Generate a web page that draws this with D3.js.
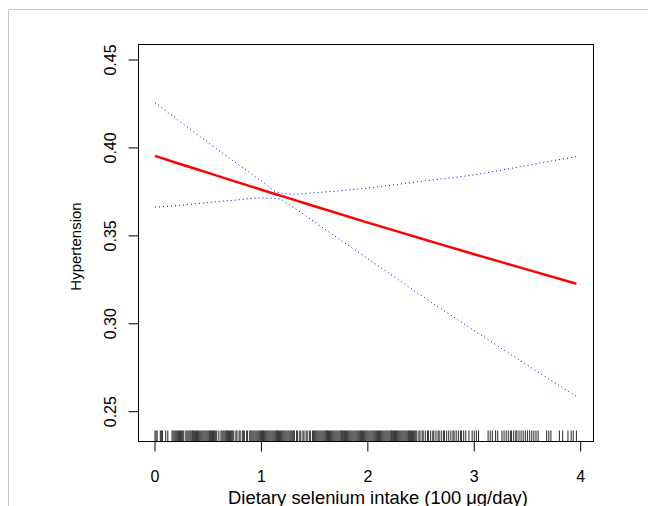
<!DOCTYPE html>
<meta charset="utf-8">
<style>
body { margin: 0; background: #fff; }
text { font-family: "Liberation Sans", Arial, sans-serif; fill: #000; }
</style>
<body>
  <div id="box1"></div>
</body>
<script src="https://d3js.org/d3.v7.min.js"></script>
<script>

// curve
var xs    = [0, 0.25, 0.5, 0.75, 1.0, 1.15, 1.3, 1.5, 2.0, 2.5, 3.0, 3.5, 3.96]
var fit   = [0.3955, 0.3906, 0.3858, 0.3810, 0.3762, 0.3734, 0.3706, 0.3668, 0.3575, 0.3485, 0.3395, 0.3308, 0.3227]
var upper = [0.4257, 0.4143, 0.4030, 0.3920, 0.3812, 0.3748, 0.3737, 0.3745, 0.3772, 0.3810, 0.3847, 0.3901, 0.3951]
var lower = [0.3663, 0.3674, 0.3690, 0.3703, 0.3715, 0.3712, 0.3662, 0.3578, 0.3370, 0.3162, 0.2961, 0.2764, 0.2587]

var xTicks = [0, 1, 2, 3, 4]
var yTicks = [0.25, 0.30, 0.35, 0.40, 0.45]

// rug of observed intakes
var rug = [0.00,0.01,0.02,0.05,0.06,0.07,0.10,0.12,
  0.16,0.17,0.18,0.19,0.20,0.21,0.22,0.23,0.24,0.25,0.26,0.27,0.29,0.30,0.31,0.32,0.33,0.34,0.35,0.355,0.36,0.37,0.38,0.39,
  0.40,0.41,0.42,0.43,0.44,0.45,0.46,0.47,0.48,0.49,0.50,0.51,0.515,0.52,0.53,0.54,0.55,0.56,0.57,0.58,0.60,0.62,0.63,0.64,0.65,0.66,0.67,0.675,0.68,0.69,
  0.70,0.71,0.72,0.73,0.74,0.76,0.77,0.79,0.80,0.82,0.83,0.84,0.86,0.87,0.89,
  0.90,0.91,0.92,0.93,0.94,0.95,0.96,0.97,0.98,0.99,1.00,1.005,
  1.01,1.02,1.03,1.04,1.05,1.06,1.07,1.08,1.09,1.10,1.11,1.12,1.13,1.14,1.145,1.15,1.16,1.17,1.18,1.19,
  1.20,1.21,1.22,1.23,1.24,1.25,1.26,1.27,1.28,1.29,1.30,1.31,1.33,1.34,1.36,1.37,1.39,1.40,1.42,1.43,1.45,1.46,1.48,1.49,
  1.50,1.51,1.52,1.53,1.54,1.55,1.56,1.57,1.58,1.59,1.60,1.61,1.615,1.62,1.63,1.64,1.65,1.66,1.67,1.68,1.69,
  1.70,1.71,1.72,1.73,1.74,1.75,1.755,1.76,1.77,1.78,1.79,1.80,1.81,1.82,1.83,1.84,1.85,1.86,1.87,1.88,1.89,
  1.90,1.91,1.92,1.93,1.94,1.95,1.96,1.97,1.98,1.99,
  2.00,2.01,2.02,2.03,2.04,2.05,2.06,2.07,2.08,2.09,2.10,2.11,2.12,2.13,2.14,2.15,2.16,2.17,2.18,2.19,
  2.20,2.21,2.22,2.225,2.23,2.24,2.25,2.26,2.27,2.28,2.29,2.30,2.31,2.32,2.33,2.34,2.35,2.36,2.37,2.38,2.385,2.39,
  2.40,2.41,2.42,2.43,2.44,2.45,
  2.46,2.48,2.49,2.51,2.52,2.54,2.56,2.57,2.59,2.61,2.62,2.64,2.66,2.67,2.69,2.71,2.72,2.74,2.76,2.78,
  2.80,2.81,2.83,2.85,2.87,2.88,2.90,2.92,2.95,2.98,
  3.00,3.02,3.04,3.13,3.15,3.17,3.20,3.22,3.26,3.28,3.30,
  3.32,3.34,3.35,3.37,3.39,3.40,3.42,3.44,3.46,3.48,3.50,3.52,3.54,3.56,3.58,3.60,
  3.68,3.70,3.72,3.80,3.83,3.88,3.91,3.93,3.96]

width = 648
height = 506
plot = ({left: 138.5, right: 593.5, top: 44.5, bottom: 441.5})

x = d3.scaleLinear().domain([0, 4]).range([155, 580.7])
y = d3.scaleLinear().domain([0.25, 0.45]).range([411.7, 60])

var svg = d3.select('#box1').append("svg")
    .attr("width", width)
    .attr("height", height)

// light frame around the figure
svg.append("path")
    .attr("d", "M8.5," + height + "V9.5H" + width)
    .attr("fill", "none")
    .attr("stroke", "#c8c8c8")

var pts = xs.map((v, i) => ({x: v, fit: fit[i], up: upper[i], lo: lower[i]}))

var line = key => d3.line()
    .x(d => x(d.x))
    .y(d => y(d[key]))
    .curve(d3.curveMonotoneX)

svg.append("g")
  .selectAll("line")
  .data(rug)
  .join("line")
    .attr("x1", d => x(d))
    .attr("x2", d => x(d))
    .attr("y1", plot.bottom - 11)
    .attr("y2", plot.bottom)
    .attr("stroke", "#3a3a3a")
    .attr("stroke-width", 1.1)

;["up", "lo"].forEach(k => {
  svg.append("path")
      .datum(pts)
      .attr("d", line(k))
      .attr("fill", "none")
      .attr("stroke", "#0000ff")
      .attr("stroke-width", 1)
      .attr("stroke-dasharray", "1,3")
})

svg.append("path")
    .datum(pts)
    .attr("d", line("fit"))
    .attr("fill", "none")
    .attr("stroke", "#ff0000")
    .attr("stroke-width", 2.5)

svg.append("rect")
    .attr("x", plot.left)
    .attr("y", plot.top)
    .attr("width", plot.right - plot.left)
    .attr("height", plot.bottom - plot.top)
    .attr("fill", "none")
    .attr("stroke", "#000")

// x axis ticks and labels
svg.selectAll("xticks")
    .data(xTicks)
    .enter()
    .append("line")
    .attr("x1", d => x(d)).attr("x2", d => x(d))
    .attr("y1", plot.bottom).attr("y2", plot.bottom + 10)
    .attr("stroke", "#000")

svg.selectAll("xlabels")
    .data(xTicks)
    .enter()
    .append("text")
    .attr("x", d => x(d))
    .attr("y", 482)
    .attr("text-anchor", "middle")
    .style("font-size", "16px")
    .text(d => d)

// y axis ticks and labels
svg.selectAll("yticks")
    .data(yTicks)
    .enter()
    .append("line")
    .attr("x1", plot.left - 10).attr("x2", plot.left)
    .attr("y1", d => y(d)).attr("y2", d => y(d))
    .attr("stroke", "#000")

svg.selectAll("ylabels")
    .data(yTicks)
    .enter()
    .append("text")
    .attr("transform", d => "translate(116," + y(d) + ") rotate(-90)")
    .attr("text-anchor", "middle")
    .style("font-size", "16px")
    .text(d => d.toFixed(2))

svg.append("text")
    .attr("transform", "translate(80.5,246.5) rotate(-90)")
    .attr("text-anchor", "middle")
    .style("font-size", "15px")
    .text("Hypertension")

svg.append("text")
    .attr("x", 378)
    .attr("y", 504)
    .attr("text-anchor", "middle")
    .style("font-size", "18.4px")
    .text("Dietary selenium intake (100 μg/day)")

</script>
